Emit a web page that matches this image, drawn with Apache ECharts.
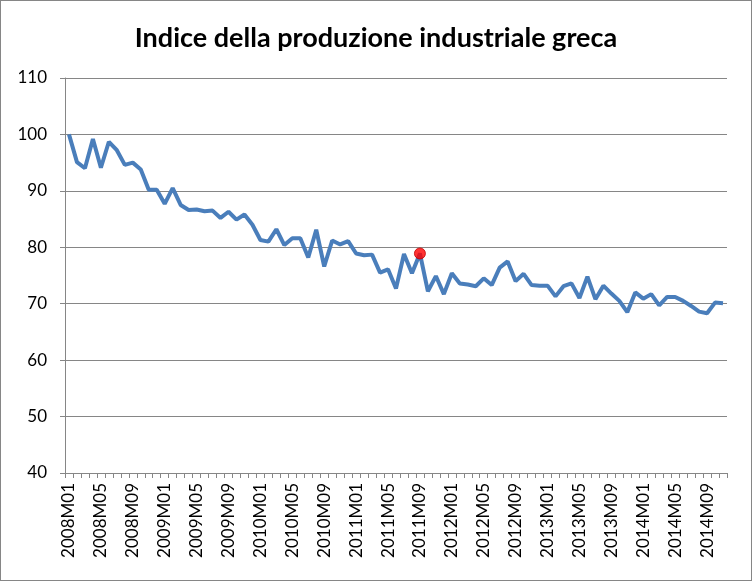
<!DOCTYPE html>
<html>
<head>
<meta charset="utf-8">
<script src="https://cdn.jsdelivr.net/npm/echarts@6/dist/echarts.min.js"></script>
<style>
html,body{margin:0;padding:0;background:#fff;}
#chart{width:752px;height:581px;box-sizing:border-box;border:1px solid #868686;}
</style>
</head>
<body>
<div id="chart"></div>
<script>
const titleText = "Indice della produzione industriale greca";
const years = [2008, 2009, 2010, 2011, 2012, 2013, 2014];
const lastMonth2014 = 11;
const values = [
  100, 95.1, 94.0, 99.2, 94.1, 98.7, 97.2, 94.6, 95.0, 93.8, 90.2, 90.2,
  87.7, 90.5, 87.5, 86.6, 86.7, 86.4, 86.5, 85.2, 86.3, 84.9, 85.8, 84.0,
  81.3, 81.0, 83.2, 80.4, 81.6, 81.6, 78.2, 83.1, 76.6, 81.2, 80.5, 81.1,
  78.9, 78.6, 78.7, 75.5, 76.1, 72.7, 78.8, 75.4, 78.9, 72.2, 74.9, 71.7,
  75.4, 73.6, 73.4, 73.1, 74.5, 73.3, 76.4, 77.5, 74.0, 75.3, 73.3, 73.2,
  73.2, 71.3, 73.1, 73.6, 71.0, 74.8, 70.8, 73.2, 71.8, 70.5, 68.5, 72.0,
  70.9, 71.7, 69.7, 71.2, 71.2, 70.5, 69.6, 68.6, 68.3, 70.2, 70.1
];
const highlightLabel = "2011M09";
const yTicks = [40, 50, 60, 70, 80, 90, 100, 110];

const categories = [];
years.forEach(y => {
  const last = (y === 2014) ? lastMonth2014 : 12;
  for (let m = 1; m <= last; m++) categories.push(y + "M" + (m < 10 ? "0" + m : m));
});
const hiIdx = categories.indexOf(highlightLabel);
const highlight = categories.map((c, i) => i === hiIdx ? values[i] : null);

const chart = echarts.init(document.getElementById('chart'));
chart.setOption({
  animation: false,
  backgroundColor: '#ffffff',
  title: {
    text: titleText,
    left: 'center',
    top: 19,
    textStyle: { fontFamily: 'Lato', fontWeight: 'bold', fontSize: 27, color: '#000' }
  },
  grid: { left: 64, right: 24, top: 77, bottom: 107, containLabel: false },
  xAxis: {
    type: 'category',
    data: categories,
    boundaryGap: true,
    axisLine: { lineStyle: { color: '#868686', width: 1 } },
    axisTick: { show: true, interval: 0, length: 5, lineStyle: { color: '#868686' } },
    axisLabel: {
      interval: 3, rotate: 90, margin: 10,
      fontFamily: 'Lato', fontSize: 17, color: '#000'
    },
    splitLine: { show: false }
  },
  yAxis: {
    type: 'value',
    min: yTicks[0], max: yTicks[yTicks.length - 1], interval: 10,
    axisLine: { show: true, lineStyle: { color: '#868686', width: 1 } },
    axisTick: { show: true, length: 5, lineStyle: { color: '#868686' } },
    axisLabel: { margin: 18, fontFamily: 'Lato', fontSize: 17, color: '#000' },
    splitLine: { show: true, lineStyle: { color: '#868686', width: 1 } }
  },
  series: [
    {
      type: 'line',
      data: values,
      symbol: 'none',
      lineStyle: { color: '#4a7ebb', width: 4 },
      z: 2
    },
    {
      type: 'scatter',
      data: highlight,
      symbol: 'circle',
      symbolSize: 11,
      itemStyle: { color: '#ff0000', borderColor: '#c00000', borderWidth: 1 },
      z: 3
    }
  ]
});
</script>
</body>
</html>
